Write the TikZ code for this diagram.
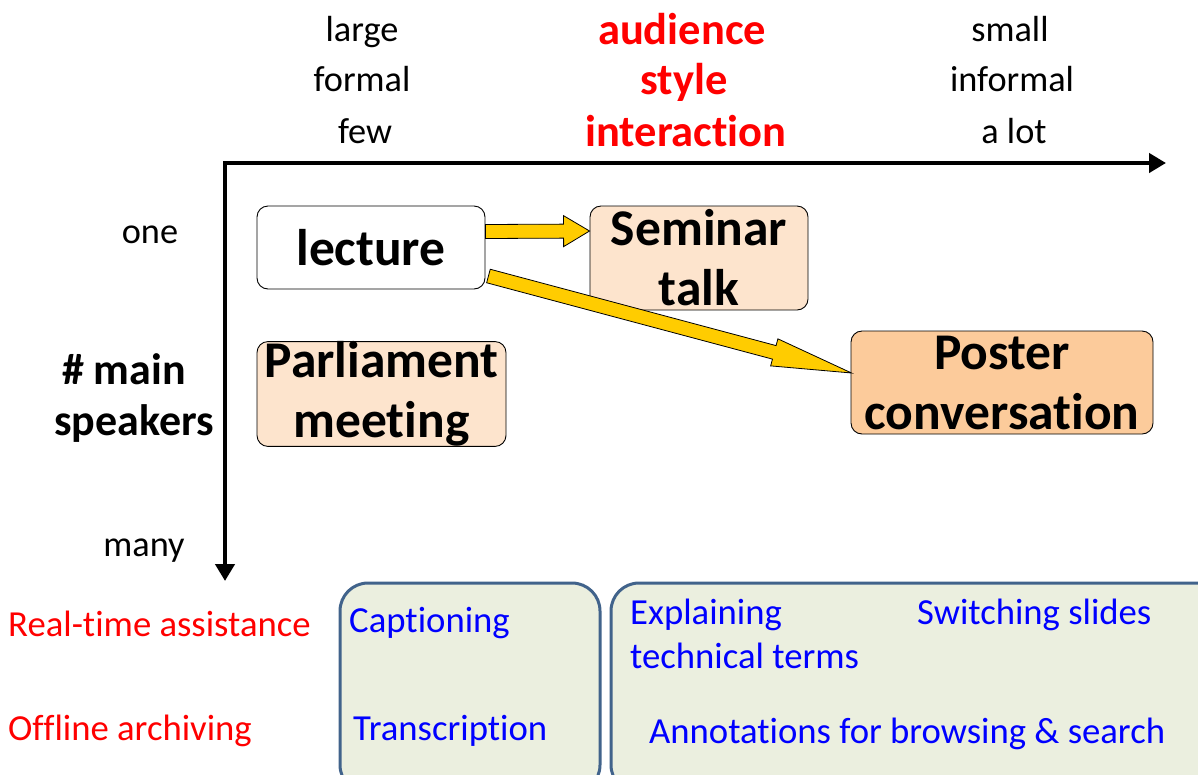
\documentclass[tikz,border=0pt]{standalone}
\usepackage{fontspec}
\setmainfont{Carlito}[Ligatures={TeX,NoCommon}]
\usetikzlibrary{calc,arrows.meta}

\definecolor{peach}{HTML}{FDE4CD}
\definecolor{apricot}{HTML}{FCCB9B}
\definecolor{arrowyellow}{HTML}{FFCC00}
\definecolor{panelfill}{HTML}{EBEFDF}
\definecolor{paneledge}{HTML}{41638B}

% Broad outlined arrow from #1 to #2: shaft half-width #3, head half-width #4, head length #5
\newcommand\fatarrow[5]{%
  \coordinate (fa-h) at ($(#2)!#5!(#1)$);
  \filldraw[fill=arrowyellow, draw=black, line width=0.8pt, line join=miter]
    ($(#1)!#3!90:(#2)$) -- ($(fa-h)!#3!90:(#2)$) -- ($(fa-h)!#4!90:(#2)$) --
    (#2) --
    ($(fa-h)!#4!-90:(#2)$) -- ($(fa-h)!#3!-90:(#2)$) -- ($(#1)!#3!-90:(#2)$) -- cycle;
}

\begin{document}
\begin{tikzpicture}[x=1pt, y=-1pt,
  txt/.style={inner sep=0pt, font=\fontsize{36.3}{44}\selectfont},
  dimhead/.style={inner sep=0pt, text=red, font=\fontsize{44.5}{51}\selectfont\bfseries},
  axislabel/.style={inner sep=0pt, align=center, font=\fontsize{44}{53}\selectfont\bfseries},
  genre/.style={draw=black, line width=0.9pt, rounded corners=11pt, inner sep=0pt,
    align=center, font=\fontsize{51.5}{60}\selectfont\bfseries},
  panel/.style={draw=paneledge, line width=3pt, fill=panelfill, rounded corners=28pt, inner sep=0pt},
  task/.style={inner sep=0pt, anchor=base west, text=blue, font=\fontsize{36.7}{44}\selectfont},
  usage/.style={inner sep=0pt, anchor=base west, text=red, font=\fontsize{36.7}{44}\selectfont},
  axis/.style={line width=4.5pt, line join=miter},
]
\useasboundingbox (0,0) rectangle (1198,774);
\clip (0,0) rectangle (1198,774);

% axes
\coordinate (origin) at (225,163);
\coordinate (xend) at (1166,163);
\coordinate (yend) at (225,581);
\draw[axis, {Triangle[length=17pt,width=19pt]}-{Triangle[length=17pt,width=19pt]}]
  (xend) -- (origin) -- (yend);

% horizontal axis labels
\node[txt, anchor=base] (large) at (362,41) {large};
\node[txt, anchor=base] (formal) at (362,91) {formal};
\node[txt, anchor=base] (few) at (365,143) {few};
\node[dimhead, anchor=base] (audience) at (682,44) {audience};
\node[dimhead, anchor=base] (style) at (684,94) {style};
\node[dimhead, anchor=base] (interaction) at (686,146) {interaction};
\node[txt, anchor=base] (small) at (1010,41) {small};
\node[txt, anchor=base] (informal) at (1012,91) {informal};
\node[txt, anchor=base] (alot) at (1014,143) {a lot};

% vertical axis labels
\node[txt, anchor=base] (one) at (150,243) {one};
\node[axislabel, anchor=base] (mainsp) at (124,384) {\# main};
\node[axislabel, anchor=base] (speakers) at (134,435) {speakers};
\node[txt, anchor=base] (many) at (144,556) {many};

% speech genres
\node[genre, fill=white, minimum width=228pt, minimum height=83pt] (lecture) at (371,247.5) {lecture};
\node[genre, fill=peach, minimum width=218pt, minimum height=104pt] (seminar) at (699,258) {Seminar\\talk};
\node[genre, fill=peach, minimum width=249pt, minimum height=104pt] (parliament) at (381.5,394) {Parliament\\meeting};
\node[genre, fill=apricot, minimum width=302pt, minimum height=103pt] (poster) at (1002,382.5) {Poster\\conversation};

% transitions between genres
\coordinate (a1s) at ($(lecture.east)+(0,-16)$);
\coordinate (a1e) at ($(seminar.west)+(0,-27)$);
\fatarrow{a1s}{a1e}{7pt}{15.5pt}{26pt}
\coordinate (a2s) at ($(lecture.east)+(3,28.5)$);
\coordinate (a2e) at ($(poster.west)+(1,-9.5)$);
\fatarrow{a2s}{a2e}{7pt}{14pt}{80pt}

% application panels
\node[panel, minimum width=260pt, minimum height=210pt] (livepanel) at (470,688) {};
\node[panel, minimum width=614pt, minimum height=210pt] (richpanel) at (918,688) {};

\node[usage] (realtime) at (8,636) {Real-time assistance};
\node[usage] (offline) at (8,740) {Offline archiving};

\node[task] (caption) at (349,632) {Captioning};
\node[task] (transcr) at (353,740) {Transcription};
\node[task] (explain) at (630,624) {Explaining};
\node[task] (terms) at (630,668) {technical terms};
\node[task] (switch) at (917,624) {Switching slides};
\node[task] (annot) at (649,743) {Annotations for browsing \& search};
\end{tikzpicture}
\end{document}
